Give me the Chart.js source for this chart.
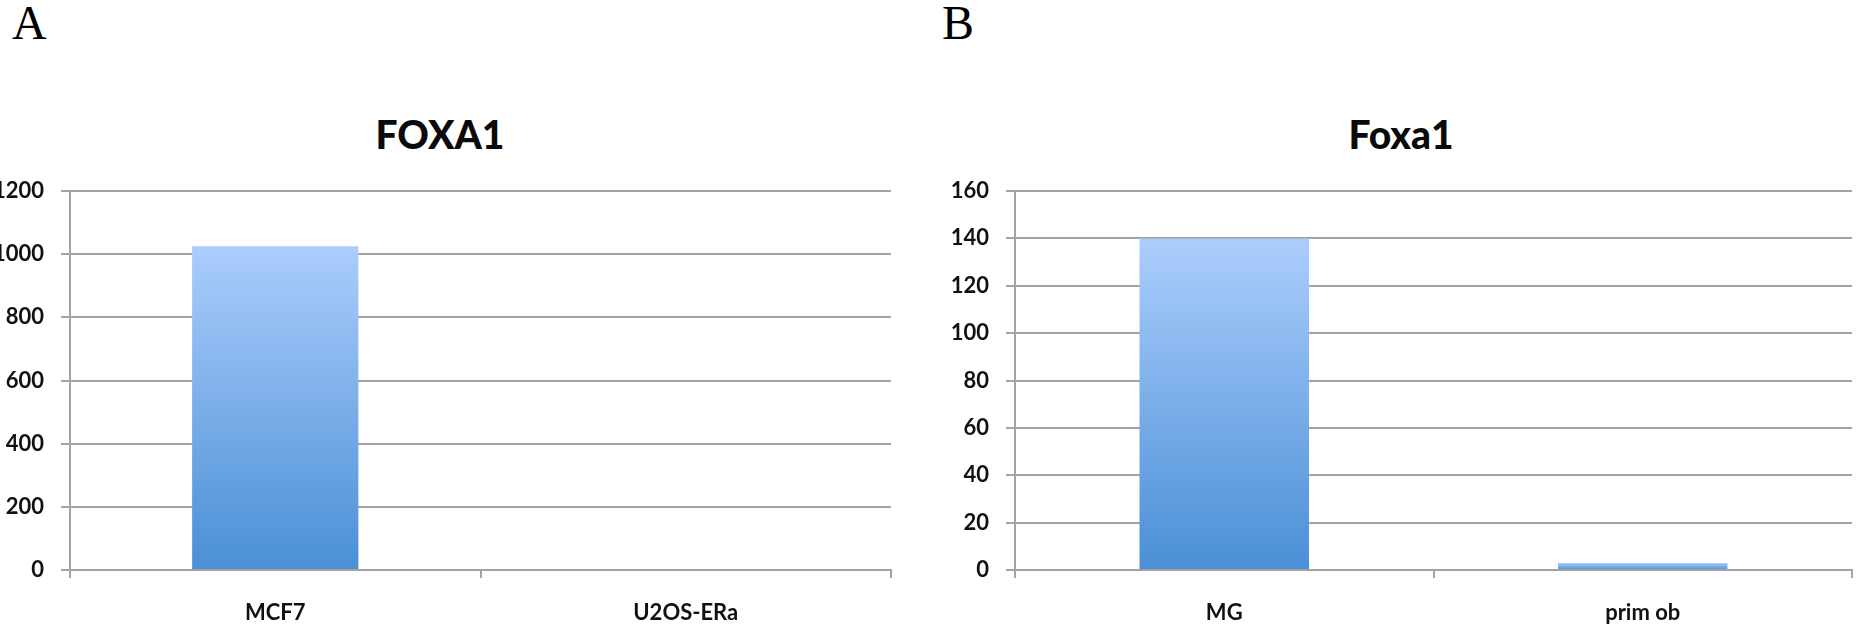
<!DOCTYPE html>
<html>
<head>
<meta charset="utf-8">
<script src="https://cdn.jsdelivr.net/npm/chart.js@4/dist/chart.umd.min.js"></script>
<style>
  body { margin: 0; background: #fff; width: 1862px; height: 629px; overflow: hidden; position: relative; }
  .panel { position: absolute; font-family: "Liberation Serif", serif; font-size: 48px; line-height: 1; color: #000; }
  .title { position: absolute; font-family: Lato, sans-serif; font-weight: 900; font-size: 39px; line-height: 1; color: #0a0a0a; transform: translate(-50%, -50%); white-space: nowrap; }
  .box { position: absolute; }
</style>
</head>
<body>
<div class="panel" style="left:12px; top:-1px;">A</div>
<div class="panel" style="left:942px; top:-1px;">B</div>
<div class="title" style="left:440px; top:134px;">FOXA1</div>
<div class="title" style="left:1401px; top:134px;">Foxa1</div>

<div class="box" style="left:0; top:150px; width:900px; height:479px;"><canvas id="chartA"></canvas></div>
<div class="box" style="left:930px; top:150px; width:932px; height:479px;"><canvas id="chartB"></canvas></div>

<script>
// panel A data
const labelsA = ['MCF7', 'U2OS-ERa'];
const valuesA = [1025, 0];
const ticksA = [0, 200, 400, 600, 800, 1000, 1200];

// panel B data
const labelsB = ['MG', 'prim ob'];
const valuesB = [140, 3];
const ticksB = [0, 20, 40, 60, 80, 100, 120, 140, 160];

const gridColor = '#a3a3a3';
const tickFont = { family: 'Lato', weight: 'bold', size: 22 };

// each bar gets its own top-to-bottom gradient, like the original
const barGradient = (context) => {
  const chart = context.chart;
  const y = chart.scales.y;
  if (!y || !chart.chartArea) return '#6fa6e4';
  const v = context.raw || 0;
  const top = y.getPixelForValue(v);
  const bottom = y.getPixelForValue(0);
  const g = chart.ctx.createLinearGradient(0, top, 0, Math.max(bottom, top + 1));
  g.addColorStop(0, '#abcdfc');
  g.addColorStop(1, '#4a8fd6');
  return g;
};

const makeChart = (id, labels, values, ticks, yWidth, padRight) => {
  const ctx = document.getElementById(id).getContext('2d');
  return new Chart(ctx, {
    type: 'bar',
    data: {
      labels: labels,
      datasets: [{
        data: values,
        backgroundColor: barGradient,
        borderWidth: 0,
        categoryPercentage: 1,
        barPercentage: 0.405
      }]
    },
    options: {
      responsive: true,
      maintainAspectRatio: false,
      animation: false,
      layout: { padding: { top: 41, right: padRight, bottom: 0, left: 0 } },
      plugins: { legend: { display: false }, tooltip: { enabled: false }, title: { display: false } },
      scales: {
        x: {
          offset: true,
          afterFit: (s) => { s.height = 59; },
          grid: { offset: true, drawOnChartArea: false, drawTicks: true, tickLength: 8, color: gridColor, lineWidth: 2 },
          border: { display: true, color: gridColor, width: 2 },
          ticks: { color: '#111', font: tickFont, padding: 22, maxRotation: 0 }
        },
        y: {
          min: ticks[0],
          max: ticks[ticks.length - 1],
          afterFit: (s) => { s.width = yWidth; },
          afterBuildTicks: (s) => { s.ticks = ticks.map(v => ({ value: v })); },
          grid: { color: gridColor, lineWidth: 2, tickLength: 9, drawTicks: true },
          border: { display: true, color: gridColor, width: 2 },
          ticks: { color: '#111', font: tickFont, padding: 17, callback: (v) => String(v) }
        }
      }
    }
  });
};

const chartA = makeChart('chartA', labelsA, valuesA, ticksA, 70, 9);
const chartB = makeChart('chartB', labelsB, valuesB, ticksB, 85, 10);
</script>
</body>
</html>
